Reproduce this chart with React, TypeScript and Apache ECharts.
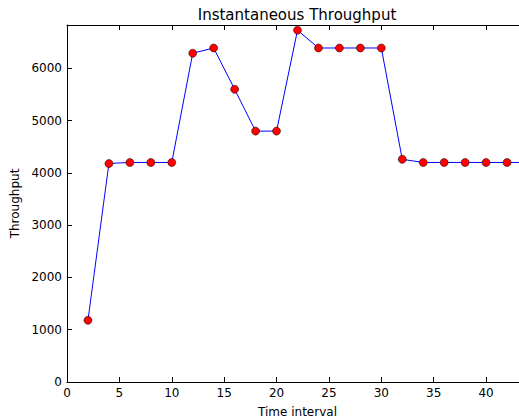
import React, { useEffect, useRef } from "react";
import * as echarts from "echarts";

const timeIntervals = [2, 4, 6, 8, 10, 12, 14, 16, 18, 20, 22, 24, 26, 28, 30, 32, 34, 36, 38, 40, 42, 44];
const throughput = [1180, 4180, 4200, 4200, 4200, 6290, 6390, 5600, 4800, 4800, 6730, 6390, 6390, 6390, 6390, 4260, 4200, 4200, 4200, 4200, 4200, 4200];
const titleText = "Instantaneous Throughput";
const xName = "Time interval";
const yName = "Throughput";

const FONT = "DejaVu Sans";

export default function App() {
  const ref = useRef<HTMLDivElement>(null);
  useEffect(() => {
    document.body.style.margin = "0";
    const chart = echarts.init(ref.current!, null, { renderer: "svg" });
    const axisCommon = {
      type: "value" as const,
      axisLine: { show: true, onZero: false, lineStyle: { color: "#000", width: 1 } },
      axisTick: { show: true, inside: true, length: 5, lineStyle: { color: "#000" } },
      splitLine: { show: false },
    };
    const fmt = (v: number) => String(v);
    chart.setOption({
      animation: false,
      backgroundColor: "#fff",
      textStyle: { fontFamily: FONT },
      graphic: [
        {
          type: "text",
          x: 297,
          y: 7,
          style: { text: titleText, font: `15px '${FONT}'`, fill: "#000", textAlign: "center" },
        },
      ],
      grid: { left: 67, top: 25, width: 461, height: 357, containLabel: false, outerBoundsMode: "none" },
      xAxis: [
        {
          ...axisCommon,
          position: "bottom",
          min: 0,
          max: 44,
          interval: 5,
          axisLabel: { color: "#000", fontSize: 12, fontFamily: FONT, margin: 5, showMaxLabel: false, formatter: fmt },
          name: xName,
          nameLocation: "middle",
          nameGap: 24,
          nameTextStyle: { color: "#000", fontSize: 12, fontFamily: FONT, verticalAlign: "top" },
        },
        {
          ...axisCommon,
          position: "top",
          min: 0,
          max: 44,
          interval: 5,
          axisLabel: { show: false },
        },
      ],
      yAxis: [
        {
          ...axisCommon,
          position: "left",
          min: 0,
          max: 6830,
          interval: 1000,
          axisLabel: { color: "#000", fontSize: 12, fontFamily: FONT, margin: 5, showMaxLabel: false, formatter: fmt },
          name: yName,
          nameLocation: "middle",
          nameGap: 39,
          nameTextStyle: { color: "#000", fontSize: 12, fontFamily: FONT },
        },
        {
          ...axisCommon,
          position: "right",
          min: 0,
          max: 6830,
          interval: 1000,
          axisLabel: { show: false },
        },
      ],
      series: [
        {
          type: "line",
          xAxisIndex: 0,
          yAxisIndex: 0,
          data: timeIntervals.map((x, i) => [x, throughput[i]]),
          symbol: "circle",
          symbolSize: 8,
          showAllSymbol: true,
          itemStyle: { color: "#ff0000", borderColor: "#000", borderWidth: 0.5 },
          lineStyle: { color: "#0000ff", width: 1 },
          clip: false,
        },
      ],
    });
    return () => chart.dispose();
  }, []);
  return <div ref={ref} style={{ width: 519, height: 419 }} />;
}
